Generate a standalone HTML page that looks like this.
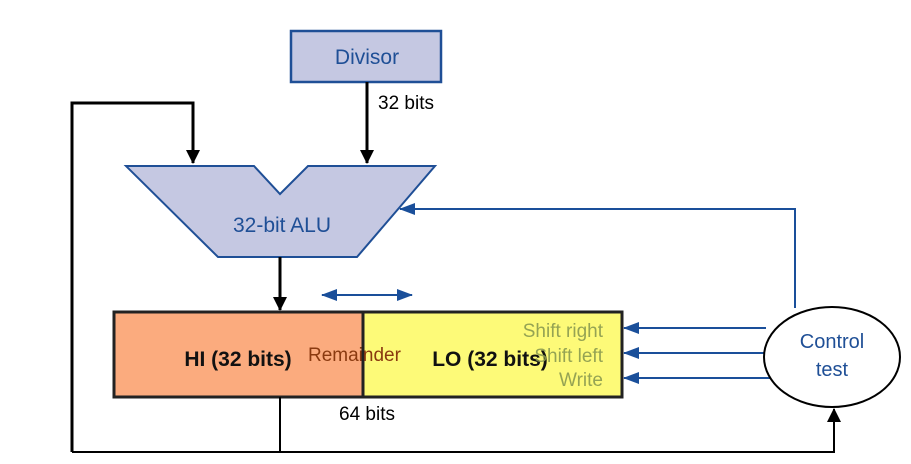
<!DOCTYPE html>
<html><head><style>body{margin:0;background:#fff}svg{display:block}</style></head><body>
<svg width="911" height="464" viewBox="0 0 911 464" xmlns="http://www.w3.org/2000/svg" font-family="Liberation Sans, sans-serif">
<defs>
<marker id="ab" markerWidth="14" markerHeight="14" refX="13" refY="7" orient="auto" markerUnits="userSpaceOnUse"><path d="M0,0 L14,7 L0,14 Z" fill="#000"/></marker>
<marker id="bb" markerWidth="16" markerHeight="12" refX="15" refY="6" orient="auto" markerUnits="userSpaceOnUse"><path d="M0,0 L16,6 L0,12 Z" fill="#1a4f9a"/></marker>
<marker id="bs" markerWidth="16" markerHeight="12" refX="1" refY="6" orient="auto" markerUnits="userSpaceOnUse"><path d="M16,0 L0,6 L16,12 Z" fill="#1a4f9a"/></marker>
</defs>
<rect x="291" y="31" width="150" height="51" fill="#c5c8e2" stroke="#1f4f96" stroke-width="2.5"/>
<text x="367" y="64" font-size="21" fill="#1f4f96" text-anchor="middle">Divisor</text>
<text x="378" y="109" font-size="19" fill="#000">32 bits</text>
<polyline points="72,452 72,103 193,103 193,163" fill="none" stroke="#000" stroke-width="3" marker-end="url(#ab)"/>
<line x1="367" y1="82" x2="367" y2="163" stroke="#000" stroke-width="3" marker-end="url(#ab)"/>
<polygon points="126,166 254,166 280,194 308,166 435,166 357,257 218,257" fill="#c5c8e2" stroke="#1f4f96" stroke-width="2"/>
<text x="282" y="232" font-size="21" fill="#1f4f96" text-anchor="middle">32-bit ALU</text>
<line x1="280" y1="257" x2="280" y2="310" stroke="#000" stroke-width="3" marker-end="url(#ab)"/>
<polyline points="795,308 795,209 400,209" fill="none" stroke="#1a4f9a" stroke-width="2" marker-end="url(#bb)"/>
<line x1="322" y1="295" x2="412" y2="295" stroke="#1a4f9a" stroke-width="2" marker-start="url(#bs)" marker-end="url(#bb)"/>
<rect x="114" y="312" width="249" height="85" fill="#fbab7e" stroke="#222" stroke-width="3"/>
<rect x="363" y="312" width="259" height="85" fill="#fdfa78" stroke="#222" stroke-width="3"/>
<text x="238" y="366" font-size="21" font-weight="bold" fill="#111" text-anchor="middle">HI (32 bits)</text>
<text x="308" y="361" font-size="19" fill="#8a3a10">Remainder</text>
<text x="490" y="366" font-size="21" font-weight="bold" fill="#111" text-anchor="middle">LO (32 bits)</text>
<g font-size="19" fill="#8a9a50" text-anchor="end" opacity="0.9">
<text x="603" y="337">Shift right</text>
<text x="603" y="362">Shift left</text>
<text x="603" y="386">Write</text>
</g>
<line x1="766" y1="328" x2="624" y2="328" stroke="#1a4f9a" stroke-width="2" marker-end="url(#bb)"/>
<line x1="764" y1="353" x2="624" y2="353" stroke="#1a4f9a" stroke-width="2" marker-end="url(#bb)"/>
<line x1="770" y1="378" x2="624" y2="378" stroke="#1a4f9a" stroke-width="2" marker-end="url(#bb)"/>
<text x="367" y="420" font-size="19" fill="#000" text-anchor="middle">64 bits</text>
<line x1="280" y1="397" x2="280" y2="452" stroke="#000" stroke-width="2"/>
<polyline points="72,452 834,452 834,409" fill="none" stroke="#000" stroke-width="2" marker-end="url(#ab)"/>
<ellipse cx="832" cy="357" rx="68" ry="50" fill="#fff" stroke="#000" stroke-width="2"/>
<text x="832" y="348" font-size="20" fill="#1f4f96" text-anchor="middle">Control</text>
<text x="832" y="376" font-size="20" fill="#1f4f96" text-anchor="middle">test</text>
</svg>
</body></html>
